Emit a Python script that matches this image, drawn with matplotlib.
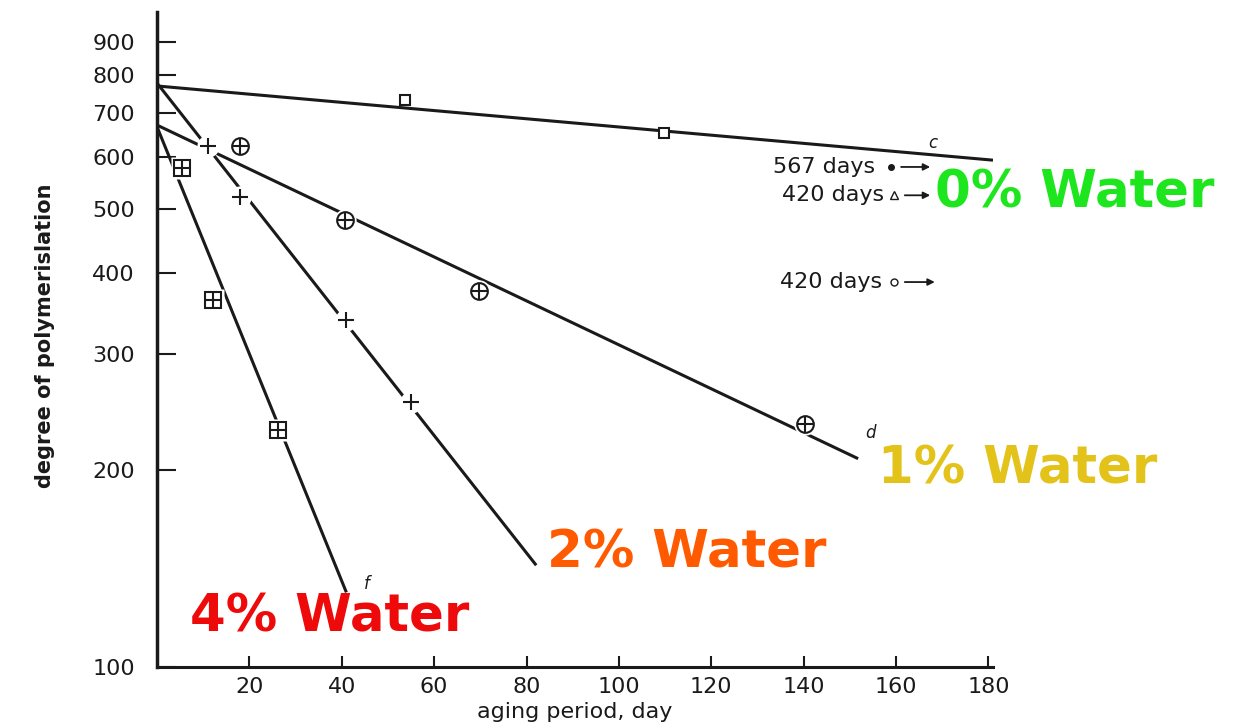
import numpy as np
import matplotlib
matplotlib.use("Agg")
import matplotlib.pyplot as plt

# ======================================================= #
# data (log y axis)
x_0pct_line = [0, 181]
y_0pct_line = [771, 594]
x_0pct_pts = [53.6, 109.7]
y_0pct_pts = [734, 653]

x_1pct_line = [0, 151.8]
y_1pct_line = [672, 208]
x_1pct_pts = [17.9, 40.6, 69.8, 140.2]
y_1pct_pts = [624, 481, 375, 235]

x_2pct_line = [0, 82.1]
y_2pct_line = [779, 143]
x_2pct_pts = [11.0, 17.9, 41.0, 55.1]
y_2pct_pts = [624, 522, 339, 254]

x_4pct_line = [0, 41.0]
y_4pct_line = [668, 130]
x_4pct_pts = [5.4, 12.1, 26.1]
y_4pct_pts = [578, 363, 230]

y_ticks = [100, 200, 300, 400, 500, 600, 700, 800, 900]
x_ticks = [20, 40, 60, 80, 100, 120, 140, 160, 180]

water_labels = ['0% Water', '1% Water', '2% Water', '4% Water']
water_colors = ['#1ee61e', '#e3c21a', '#ff5a00', '#ee0a0a']

# ======================================================= #
fig = plt.figure(figsize=(12.38, 7.27), dpi=100)
ax = fig.add_axes([157 / 1238, 60 / 727, 836 / 1238, 655 / 727])
ax.set_yscale('log')
ax.set_xlim(0, 181)
ax.set_ylim(100, 1000)

ink = '#1a1a1a'

# lines
for xs, ys in [(x_0pct_line, y_0pct_line), (x_1pct_line, y_1pct_line),
               (x_2pct_line, y_2pct_line), (x_4pct_line, y_4pct_line)]:
    ax.plot(xs, ys, color=ink, lw=2.2, solid_capstyle='butt', zorder=2)

# markers (white blob underneath makes the gap in the line)
ax.plot(x_0pct_pts, y_0pct_pts, 's', ms=7, mfc='white', mec=ink, mew=1.5, zorder=3)

ax.plot(x_1pct_pts, y_1pct_pts, 'o', ms=16, mfc='white', mec='none', zorder=3)
ax.plot(x_1pct_pts, y_1pct_pts, 'o', ms=12, mfc='none', mec=ink, mew=1.5, zorder=4)
ax.plot(x_1pct_pts, y_1pct_pts, '+', ms=12, mec=ink, mew=1.5, zorder=4)

ax.plot(x_2pct_pts, y_2pct_pts, 'o', ms=16, mfc='white', mec='none', zorder=3)
ax.plot(x_2pct_pts, y_2pct_pts, '+', ms=11, mec=ink, mew=1.5, zorder=4)

ax.plot(x_4pct_pts, y_4pct_pts, 's', ms=16, mfc='white', mec='none', zorder=3)
ax.plot(x_4pct_pts, y_4pct_pts, 's', ms=11, mfc='none', mec=ink, mew=1.5, zorder=4)
ax.plot(x_4pct_pts, y_4pct_pts, '+', ms=11, mec=ink, mew=1.5, zorder=4)

# curve letters
ax.text(168, 631, 'c', fontsize=12, style='italic', color=ink, ha='center', va='center')
ax.text(154.5, 228, 'd', fontsize=12, style='italic', color=ink, ha='center', va='center')
ax.text(45.4, 134, 'f', fontsize=12, style='italic', color=ink, ha='center', va='center')

# notes on the right
ax.text(155.5, 580, '567 days', fontsize=16, color=ink, va='center', ha='right')
ax.plot([159], [580], 'o', ms=4, color=ink)
ax.annotate('', xy=(168, 580), xytext=(160.5, 580),
            arrowprops=dict(arrowstyle='-|>', color=ink, lw=1.3))
ax.text(157.5, 525, '420 days', fontsize=16, color=ink, va='center', ha='right')
ax.plot([159.6], [525], '^', ms=6, mfc='none', mec=ink)
ax.annotate('', xy=(168, 525), xytext=(161.3, 525),
            arrowprops=dict(arrowstyle='-|>', color=ink, lw=1.3))
ax.text(157, 387, '420 days', fontsize=16, color=ink, va='center', ha='right')
ax.plot([159.6], [387], 'o', ms=5, mfc='none', mec=ink)
ax.annotate('', xy=(169, 387), xytext=(161.3, 387),
            arrowprops=dict(arrowstyle='-|>', color=ink, lw=1.3))

# axes look
for s in ['top', 'right']:
    ax.spines[s].set_visible(False)
ax.spines['left'].set_linewidth(2.5)
ax.spines['bottom'].set_linewidth(2.2)
ax.spines['left'].set_color(ink)
ax.spines['bottom'].set_color(ink)

ax.yaxis.set_major_locator(matplotlib.ticker.FixedLocator(y_ticks))
ax.yaxis.set_major_formatter(matplotlib.ticker.FixedFormatter([str(v) for v in y_ticks]))
ax.yaxis.set_minor_locator(matplotlib.ticker.NullLocator())
ax.set_xticks(x_ticks)
ax.set_xticklabels([str(v) for v in x_ticks])
ax.tick_params(axis='y', direction='in', length=14, width=1.5, pad=16,
               labelsize=16, colors=ink)
ax.tick_params(axis='x', direction='in', length=8, width=1.5, pad=7,
               labelsize=16, colors=ink)

ax.set_xlabel('aging period, day', fontsize=16, color=ink, labelpad=4)
ax.text(-0.134, 0.505, 'degree of polymerislation', transform=ax.transAxes,
        rotation=90, fontsize=15, fontweight='bold', color=ink,
        ha='center', va='center')

# coloured water labels
label_pos = [(935, 207), (878, 483), (547, 568), (190, 632)]
for txt, col, (px, py) in zip(water_labels, water_colors, label_pos):
    fig.text(px / 1238, 1 - py / 727, txt, color=col, fontsize=37,
             fontweight='bold', ha='left', va='baseline')

fig.savefig('out.png', dpi=100)
